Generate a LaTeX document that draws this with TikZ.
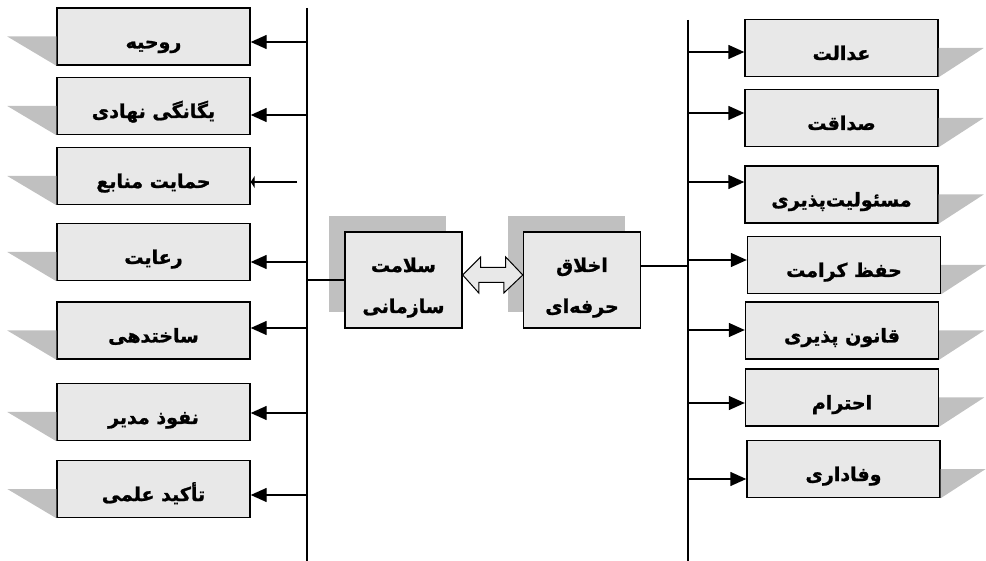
\documentclass[tikz,border=0pt]{standalone}
\usepackage{fontspec}
\newfontfamily\farsifont[Script=Arabic, BoldFeatures={FakeBold=1.2}]{DejaVu Sans}
\TeXXeTstate=1
\usetikzlibrary{arrows.meta,calc,shadows}
\definecolor{boxgray}{HTML}{E8E8E8}
\definecolor{shadegray}{HTML}{C0C0C0}
\newcommand{\fatxt}[1]{\beginR #1\endR}
\tikzset{
  item/.style={rectangle, draw, fill=boxgray, line width=1.4pt, minimum width=193pt, minimum height=57pt, inner sep=0pt,
    text height=24pt, text depth=0pt, font=\farsifont\bfseries\fontsize{19}{41}\selectfont},
  core/.style={item, minimum width=117pt, minimum height=96pt, align=center, text height=70pt, text depth=4pt,
    drop shadow={shadow xshift=-16pt, shadow yshift=16pt, fill=shadegray, opacity=1}},
  arr/.style={-{Triangle[length=16pt,width=14pt]}, line width=1.4pt},
  spine/.style={line width=1.4pt},
  wedge/.style={fill=shadegray}
}
\begin{document}
\begin{tikzpicture}[x=1pt, y=-1pt]
    \useasboundingbox (0,0) rectangle (986,561);

    \coordinate (ltop) at (307,8);
    \coordinate (lbot) at (307,561);
    \coordinate (rtop) at (688,20);
    \coordinate (rbot) at (688,561);
    \draw[spine] (ltop) -- (lbot);
    \draw[spine] (rtop) -- (rbot);

    \foreach \i/\cx/\cy/\lbl in {1/153.5/36.5/روحیه, 2/153.5/106/یگانگی نهادی, 3/153.5/176/حمایت منابع,
        4/153.5/252/رعایت, 5/153.5/330.5/ساختدهی, 6/153.5/412/نفوذ مدیر, 7/153.5/489/تأکید علمی} {
        \node (l\i) [item] at (\cx,\cy) {\fatxt{\lbl}};
        \fill[wedge] (l\i.west) -- ++(-49,0) -- (l\i.south west) -- cycle;
    }
    \foreach \i/\cx/\cy/\lbl in {1/841.5/48/عدالت, 2/841.5/118/صداقت, 3/841.5/194.5/مسئولیت‌پذیری,
        4/844/265/حفظ کرامت, 5/842/330.5/قانون پذیری, 6/842/397.5/احترام, 7/843.5/469/وفاداری} {
        \node (r\i) [item] at (\cx,\cy) {\fatxt{\lbl}};
        \fill[wedge] (r\i.east) -- ++(45,0) -- (r\i.south east) -- cycle;
    }

    \foreach \i/\ay in {1/42, 2/115, 4/262, 5/328, 6/413, 7/495} {
        \coordinate (lj\i) at (307,\ay);
        \draw[arr] (lj\i) -- (l\i.east |- lj\i);
    }
    \coordinate (lj3) at (297,182);
    \draw[line width=1.4pt, -{Triangle[length=4pt,width=12pt]}] (lj3) -- (l3.east |- lj3);

    \foreach \i/\ay in {1/52, 2/113, 3/182, 4/260, 5/330, 6/403, 7/479} {
        \coordinate (rj\i) at (688,\ay);
        \draw[arr] (rj\i) -- (r\i.west |- rj\i);
    }

    \node (salamat) [core] at (403.5,280) {\fatxt{سلامت}\\\fatxt{سازمانی}};
    \node (akhlagh) [core] at (582,280) {\fatxt{اخلاق}\\\fatxt{حرفه‌ای}};

    \coordinate (lj) at (307,280);
    \coordinate (rj) at (688,266);
    \draw[spine] (lj) -- (salamat.west);
    \draw[spine] (akhlagh.east |- rj) -- (rj);

    \coordinate (dm) at ($(salamat.east)!0.5!(akhlagh.west)+(0,-5)$);
    \draw[fill=boxgray, line width=1pt] (salamat.east |- dm) -- ++(18,-18) -- ++(0,10.5) -- ++(25,0) -- ++(0,-10.5)
        -- (akhlagh.west |- dm) -- ++(-19,18) -- ++(0,-10.5) -- ++(-25,0) -- ++(0,10.5) -- cycle;
\end{tikzpicture}
\end{document}
